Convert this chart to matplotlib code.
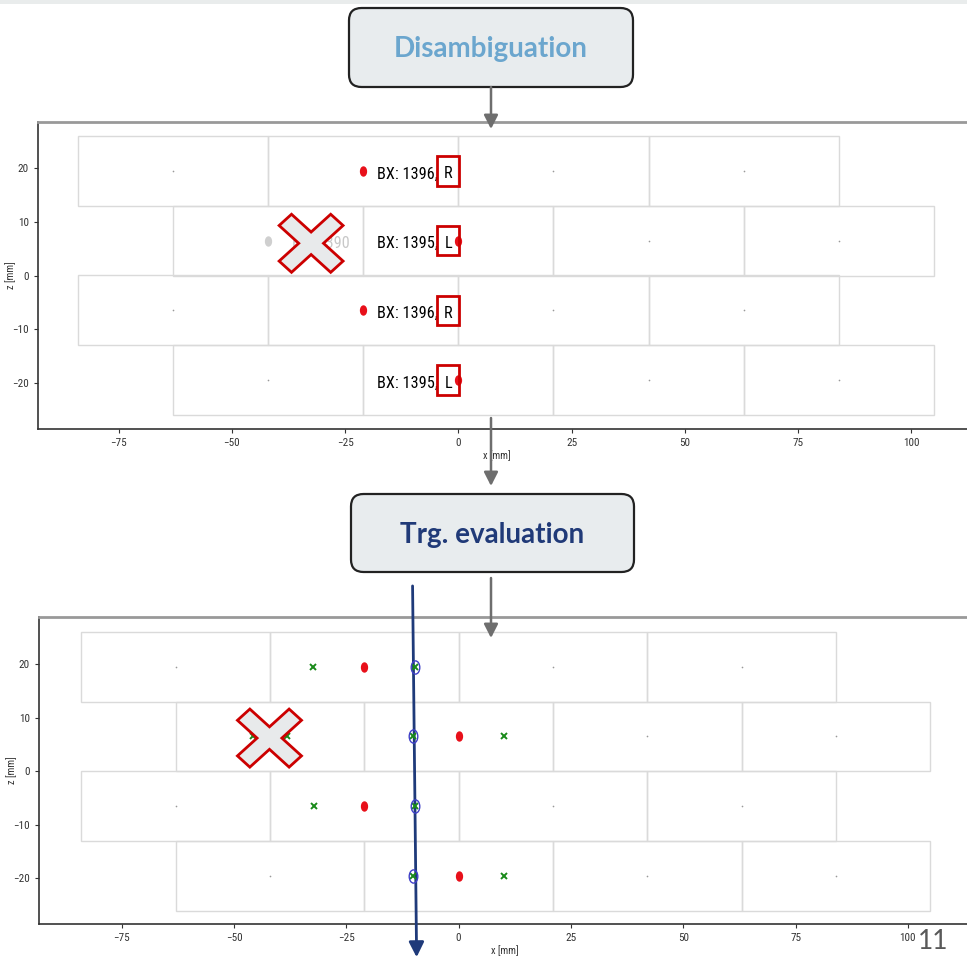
import numpy as np
import matplotlib
matplotlib.use('Agg')
import matplotlib.pyplot as plt
from matplotlib import font_manager as fm
from matplotlib.patches import Rectangle, Polygon, FancyBboxPatch, FancyArrowPatch
from matplotlib.path import Path

# chamber geometry: 4 staggered layers of drift cells
layer_z = [19.5, 6.5, -6.5, -19.5]
layer_first_edge = [-84, -63, -84, -63]
cells_per_layer = 4
cell_width = 42
cell_height = 13

# hits kept after the BX disambiguation
hit_x = [-21, 0, -21, 0]
hit_z = [19.5, 6.5, -6.5, -19.5]
hit_bx = [1396, 1395, 1396, 1395]
hit_lat = ['R', 'L', 'R', 'L']
hit_drift = [11.4, 10.2, 11.2, 10.1]

# out-of-time hit that gets rejected
rej_x = [-42]
rej_z = [6.5]
rej_bx = [1390]
rej_drift = [3.8]

# fitted track (x at top and bottom z)
track_x = [-10.25, -9.35]
track_z = [34.6, -34.7]

xticks = [-75, -50, -25, 0, 25, 50, 75, 100]
yticks = [-20, -10, 0, 10, 20]

W, H = 967, 957

# a condensed face for the plot texts, if one is around
installed = {f.name for f in fm.fontManager.ttflist}
narrow_face = 'DejaVu Sans'
for cand in ['DejaVu Sans Condensed', 'Roboto Condensed', 'Open Sans Condensed',
             'Archivo Narrow', 'Barlow Semi Condensed']:
    if cand in installed:
        narrow_face = cand
        break
narrow = [narrow_face, 'DejaVu Sans']
slide_font = ['Lato', 'DejaVu Sans']

fig = plt.figure(figsize=(W / 100, H / 100), dpi=100)


def rect(left, top, right, bottom):
    return [left / W, 1 - bottom / H, (right - left) / W, (bottom - top) / H]


def fpos(px, py):
    return (px / W, 1 - py / H)


# squeezed round marker, like the stretched original plots
circ = Path.unit_circle()
ellipse = Path(circ.vertices * [0.65, 1.0], circ.codes)


def cross_polygon(cx, cz, hx, hz):
    a, b = 0.24, 1.0
    pts = np.array([(-a, b), (a, b), (a, a), (b, a), (b, -a), (a, -a),
                    (a, -b), (-a, -b), (-a, -a), (-b, -a), (-b, a), (-a, a)])
    t = np.pi / 4
    rot = np.array([[np.cos(t), -np.sin(t)], [np.sin(t), np.cos(t)]])
    pts = pts @ rot.T
    pts = pts / np.abs(pts).max(axis=0)
    return Polygon(pts * [hx, hz] + [cx, cz], closed=True, fc='#e8eaeb',
                   ec='#cc0000', lw=2, zorder=20, clip_on=False)


def draw_chamber(ax):
    for z0, edge in zip(layer_z, layer_first_edge):
        lefts = [edge + i * cell_width for i in range(cells_per_layer)]
        for left in lefts:
            ax.add_patch(Rectangle((left, z0 - cell_height / 2), cell_width, cell_height,
                                   fill=False, ec='#dadada', lw=1, zorder=1))
        wires = [left + cell_width / 2 for left in lefts]
        ax.plot(wires, [z0] * len(wires), 'o', color='#999999', ms=1.2, mew=0, zorder=2)


def style_axes(ax, xlim, ylim, label_x):
    ax.set_xlim(*xlim)
    ax.set_ylim(*ylim)
    ax.set_xticks(xticks)
    ax.set_yticks(yticks)
    for lab in ax.get_xticklabels() + ax.get_yticklabels():
        lab.set_family(narrow)
    ax.tick_params(labelsize=8, length=3, width=0.8, colors='#333333')
    ax.spines['top'].set_color('#999999')
    ax.spines['top'].set_linewidth(2)
    ax.spines['right'].set_visible(False)
    for s in ['left', 'bottom']:
        ax.spines[s].set_color('#333333')
        ax.spines[s].set_linewidth(1.2)
    ax.set_xlabel('x [mm]', fontsize=7.5, family=narrow, color='#333333')
    ax.set_ylabel('z [mm]', fontsize=7.5, family=narrow, color='#333333')
    ax.xaxis.set_label_coords(label_x, -0.07)
    ax.yaxis.set_label_coords(-0.023, 0.5)


# ---- top panel: disambiguation ----
ax1 = fig.add_axes(rect(38, 122, 1000, 429))
draw_chamber(ax1)
ax1.plot(rej_x, rej_z, ls='none', marker=ellipse, ms=6.5, color='#cfcfcf', zorder=4)
ax1.plot(hit_x, hit_z, ls='none', marker=ellipse, ms=6.5, color='#e8101a', zorder=5)

label_x = -18
rej_label_x = -36.7
lat_box_x = -2.2
bx_texts = []
for z0, bx, lat in zip(hit_z, hit_bx, hit_lat):
    bx_texts.append(ax1.text(label_x, z0 - 1.4, f'BX: {bx},', fontsize=12.5,
                             family=narrow, va='baseline', ha='left', zorder=6))
    bx_texts.append(ax1.text(lat_box_x, z0 - 1.4, lat, fontsize=12.5, family=narrow,
                             va='baseline', ha='center', zorder=6))
    ax1.add_patch(Rectangle((lat_box_x - 2.45, z0 - 2.75), 4.9, 5.5, fill=False,
                            ec='#cc0000', lw=2, zorder=7))
for z0, bx in zip(rej_z, rej_bx):
    bx_texts.append(ax1.text(rej_label_x, z0 - 1.4, f'BX: {bx}', fontsize=12.5,
                             family=narrow, va='baseline', ha='left', color='#c8c8c8',
                             zorder=6))
ax1.add_patch(cross_polygon(-32.5, 6.0, 7.06, 5.41))
style_axes(ax1, (-92.8, 119.6), (-28.6, 28.6), 0.477)

# size the BX labels so "BX: 1396," spans about 61 px
fig.canvas.draw()
width_px = bx_texts[0].get_window_extent().width
bx_size = float(np.clip(12.5 * 61 / width_px, 8, 14))
for t in bx_texts:
    t.set_fontsize(bx_size)

# ---- bottom panel: trigger evaluation ----
ax2 = fig.add_axes(rect(39, 617, 1000, 924))
draw_chamber(ax2)
ax2.plot(hit_x, hit_z, ls='none', marker=ellipse, ms=6.5, color='#e8101a', zorder=5)

lat_left = [x - d for x, d in zip(hit_x + rej_x, hit_drift + rej_drift)]
lat_right = [x + d for x, d in zip(hit_x + rej_x, hit_drift + rej_drift)]
all_z = hit_z + rej_z
ax2.plot(lat_left + lat_right, all_z + all_z, ls='none', marker='x', ms=4.2,
         mew=1.4, color='#1a8a1a', zorder=5)

chosen = [x + d if lat == 'R' else x - d for x, d, lat in zip(hit_x, hit_drift, hit_lat)]
ax2.plot(chosen, hit_z, ls='none', marker=ellipse, ms=9.5, mfc='none',
         mec='#4040c8', mew=1, zorder=6)
ax2.add_patch(cross_polygon(-42.1, 6.2, 7.13, 5.42))
style_axes(ax2, (-93.4, 120.5), (-28.5, 28.8), 0.485)

ax2.annotate('', xy=(track_x[1], track_z[1]), xytext=(track_x[0], track_z[0]),
             xycoords='data', annotation_clip=False,
             arrowprops=dict(arrowstyle='-|>,head_length=0.6,head_width=0.3',
                             color='#1f3a7a', lw=2, mutation_scale=15,
                             shrinkA=0, shrinkB=0))

# ---- slide elements: header strip, boxes, flow arrows, page number ----
fig.patches.append(Rectangle(fpos(0, 4), 1, 4 / H, transform=fig.transFigure,
                             fc='#e9ecec', ec='none', zorder=0))

boxes = [((349, 8, 633, 87), 'Disambiguation', '#6ba6ce', 57),
         ((351, 494, 634, 572), 'Trg. evaluation', '#203a78', 543)]
for (l, t, r, b), title, col, base in boxes:
    x0, y0 = fpos(l, b)
    fig.patches.append(FancyBboxPatch((x0, y0), (r - l) / W, (b - t) / H,
                                      boxstyle='round,pad=0,rounding_size=0.013',
                                      transform=fig.transFigure, fc='#e8ecee',
                                      ec='#222222', lw=1.6, zorder=5))
    fig.text((l + r) / 2 / W, 1 - base / H, title, ha='center', va='baseline',
             fontsize=20, fontweight='bold', family=slide_font, color=col, zorder=6)

for y_start, y_end in [(87, 129), (418, 486), (578, 638)]:
    fig.patches.append(FancyArrowPatch(fpos(491, y_start), fpos(491, y_end),
                                       transform=fig.transFigure,
                                       arrowstyle='-|>,head_length=0.55,head_width=0.28',
                                       mutation_scale=15, color='#6e6e6e', lw=1.8,
                                       shrinkA=0, shrinkB=0, zorder=8))

fig.text(948 / W, 1 - 949 / H, '11', ha='right', va='baseline', fontsize=19,
         family=slide_font, color='#595959')

fig.savefig('out.png', dpi=100)
